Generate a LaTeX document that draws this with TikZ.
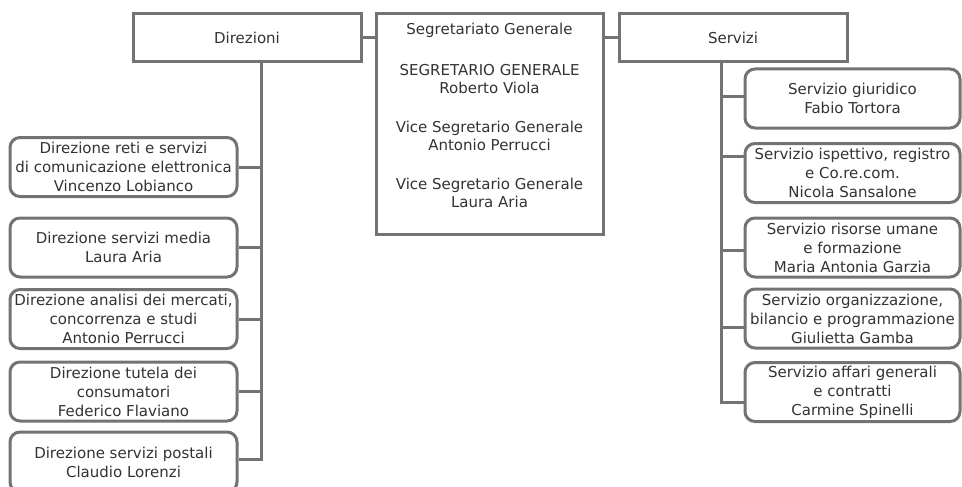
\documentclass[tikz,border=0pt]{standalone}
\usepackage{fontspec}
\setmainfont{DejaVu Sans}
\usepackage{tikz}
\definecolor{framegray}{HTML}{737373}
\definecolor{inkgray}{HTML}{333333}
\tikzset{
  headbox/.style={draw=framegray, line width=3pt, fill=white, inner sep=0pt,
    minimum width=228pt, minimum height=48pt, align=center},
  unitbox/.style={draw=framegray, line width=3pt, fill=white, rounded corners=10pt,
    inner sep=0pt, minimum height=59pt, align=center},
  link/.style={draw=framegray, line width=3pt}
}

\begin{document}
\begin{tikzpicture}[x=1pt, y=-1pt, text=inkgray,
    font=\fontsize{15pt}{19pt}\selectfont]
    \useasboundingbox (0,0) rectangle (962,487);

    % top row
    \node[headbox] (dir) at (247,38) {Direzioni};
    \node[headbox, minimum width=227pt, minimum height=220pt,
      font=\fontsize{15pt}{18pt}\selectfont] (sg) at (489.5,124)
      {Segretariato Generale\\[23pt]
       SEGRETARIO GENERALE\\ Roberto Viola\\[21pt]
       Vice Segretario Generale\\ Antonio Perrucci\\[21pt]
       Vice Segretario Generale\\ Laura Aria\\ \mbox{}};
    \node[headbox] (srv) at (733,38) {Servizi};

    \draw[link] (dir.east) -- (dir.east -| sg.west);
    \draw[link] (srv.west) -- (srv.west -| sg.east);

    % direzioni
    \node[unitbox, minimum width=227pt] (dz1) at (123.5,167)
      {Direzione reti e servizi\\ di comunicazione elettronica\\ Vincenzo Lobianco};
    \node[unitbox, minimum width=227pt] (dz2) at (123.5,247.5)
      {Direzione servizi media\\ Laura Aria};
    \node[unitbox, minimum width=227pt] (dz3) at (123.5,319)
      {Direzione analisi dei mercati,\\ concorrenza e studi\\ Antonio Perrucci};
    \node[unitbox, minimum width=227pt] (dz4) at (123.5,391.5)
      {Direzione tutela dei\\ consumatori\\ Federico Flaviano};
    \node[unitbox, minimum width=227pt, minimum height=60pt] (dz5) at (123.5,462)
      {Direzione servizi postali\\ Claudio Lorenzi};

    \coordinate (dtrunk) at ([xshift=14pt]dir.south);
    \draw[link] (dtrunk) |- ([yshift=3pt]dz5.east);
    \foreach \k in {1,...,4}
        \draw[link] (dz\k.east) -- (dz\k.east -| dtrunk);

    % servizi
    \node[unitbox, minimum width=215pt] (sv1) at (852.5,98.5)
      {Servizio giuridico\\ Fabio Tortora};
    \node[unitbox, minimum width=215pt] (sv2) at (852.5,173)
      {Servizio ispettivo, registro\\ e Co.re.com.\\ Nicola Sansalone};
    \node[unitbox, minimum width=215pt] (sv3) at (852.5,247.5)
      {Servizio risorse umane\\ e formazione\\ Maria Antonia Garzia};
    \node[unitbox, minimum width=215pt] (sv4) at (852.5,318.5)
      {Servizio organizzazione,\\ bilancio e programmazione\\ Giulietta Gamba};
    \node[unitbox, minimum width=215pt] (sv5) at (852.5,392)
      {Servizio affari generali\\ e contratti\\ Carmine Spinelli};

    \coordinate (strunk) at ([xshift=-12pt]srv.south);
    \draw[link] (strunk) |- ([yshift=-10pt]sv5.west);
    \foreach \k/\dy in {1/1.5,2/17,3/-2.5,4/-8.5}
        \draw[link] ([yshift=\dy pt]sv\k.west) -- ([yshift=\dy pt]sv\k.west -| strunk);
\end{tikzpicture}
\end{document}
